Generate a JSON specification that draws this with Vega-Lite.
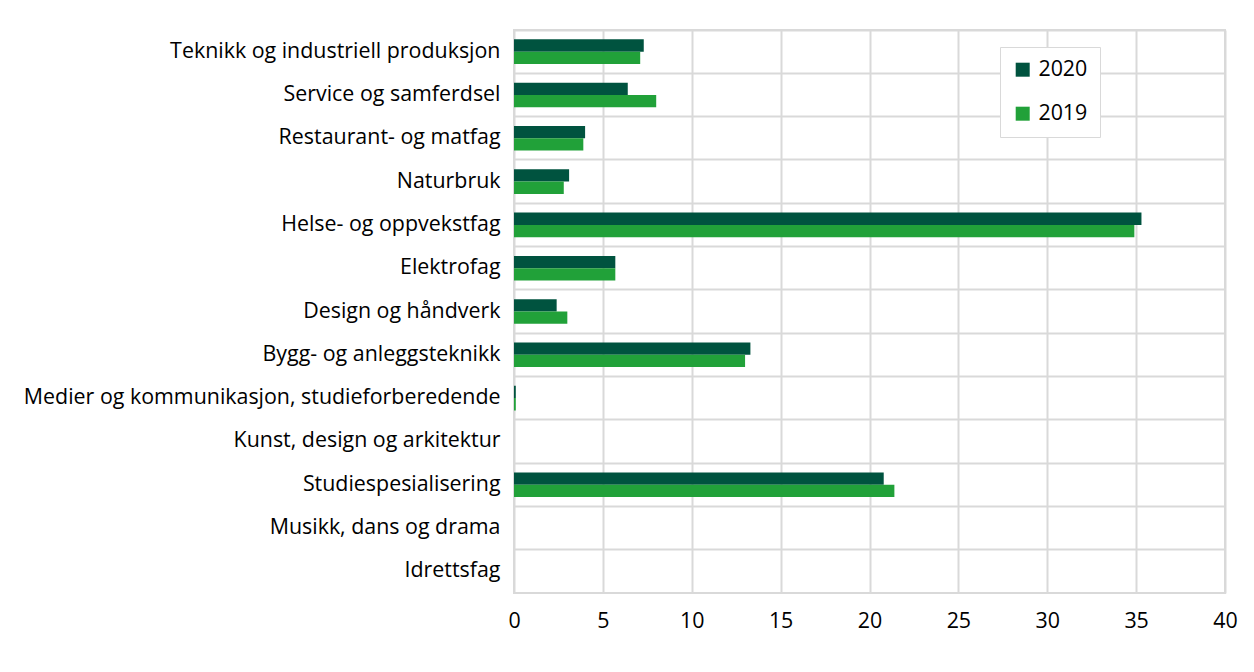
{
  "$schema": "https://vega.github.io/schema/vega-lite/v6.json",
  "autosize": {"type": "none"},
  "padding": {"left": 514, "top": 30, "right": 29, "bottom": 79},
  "width": 711,
  "height": 563,
  "background": "white",
  "config": {
    "font": "Open Sans",
    "view": {"stroke": "#d9d9d9", "strokeWidth": 2}
  },
  "data": {
    "values": [
      {"fag": "Teknikk og industriell produksjon", "year": "2020", "value": 7.3},
      {"fag": "Teknikk og industriell produksjon", "year": "2019", "value": 7.1},
      {"fag": "Service og samferdsel", "year": "2020", "value": 6.4},
      {"fag": "Service og samferdsel", "year": "2019", "value": 8.0},
      {"fag": "Restaurant- og matfag", "year": "2020", "value": 4.0},
      {"fag": "Restaurant- og matfag", "year": "2019", "value": 3.9},
      {"fag": "Naturbruk", "year": "2020", "value": 3.1},
      {"fag": "Naturbruk", "year": "2019", "value": 2.8},
      {"fag": "Helse- og oppvekstfag", "year": "2020", "value": 35.3},
      {"fag": "Helse- og oppvekstfag", "year": "2019", "value": 34.9},
      {"fag": "Elektrofag", "year": "2020", "value": 5.7},
      {"fag": "Elektrofag", "year": "2019", "value": 5.7},
      {"fag": "Design og håndverk", "year": "2020", "value": 2.4},
      {"fag": "Design og håndverk", "year": "2019", "value": 3.0},
      {"fag": "Bygg- og anleggsteknikk", "year": "2020", "value": 13.3},
      {"fag": "Bygg- og anleggsteknikk", "year": "2019", "value": 13.0},
      {"fag": "Medier og kommunikasjon, studieforberedende", "year": "2020", "value": 0.1},
      {"fag": "Medier og kommunikasjon, studieforberedende", "year": "2019", "value": 0.1},
      {"fag": "Kunst, design og arkitektur", "year": "2020", "value": 0},
      {"fag": "Kunst, design og arkitektur", "year": "2019", "value": 0},
      {"fag": "Studiespesialisering", "year": "2020", "value": 20.8},
      {"fag": "Studiespesialisering", "year": "2019", "value": 21.4},
      {"fag": "Musikk, dans og drama", "year": "2020", "value": 0},
      {"fag": "Musikk, dans og drama", "year": "2019", "value": 0},
      {"fag": "Idrettsfag", "year": "2020", "value": 0},
      {"fag": "Idrettsfag", "year": "2019", "value": 0}
    ]
  },
  "mark": {"type": "bar"},
  "encoding": {
    "y": {
      "field": "fag",
      "type": "nominal",
      "sort": null,
      "title": null,
      "scale": {"paddingInner": 0, "paddingOuter": 0},
      "axis": {
        "bandPosition": 0,
        "grid": true,
        "gridColor": "#d9d9d9",
        "gridWidth": 2,
        "ticks": false,
        "domain": false,
        "labelFontSize": 21.4,
        "labelColor": "#000000",
        "labelPadding": 14,
        "labelLimit": 600
      }
    },
    "yOffset": {
      "field": "year",
      "type": "nominal",
      "scale": {"domain": ["2020", "2019"], "paddingInner": 0, "paddingOuter": 0.76}
    },
    "x": {
      "field": "value",
      "type": "quantitative",
      "title": null,
      "scale": {"domain": [0, 40], "nice": false},
      "axis": {
        "values": [0, 5, 10, 15, 20, 25, 30, 35, 40],
        "grid": true,
        "gridColor": "#d9d9d9",
        "gridWidth": 2,
        "ticks": false,
        "domain": false,
        "labelFontSize": 21.4,
        "labelColor": "#000000",
        "labelPadding": 17,
        "labelFlush": false
      }
    },
    "color": {
      "field": "year",
      "type": "nominal",
      "scale": {"domain": ["2020", "2019"], "range": ["#00533f", "#21a139"]},
      "legend": {
        "title": null,
        "orient": "none",
        "legendX": 486,
        "legendY": 17,
        "direction": "vertical",
        "symbolType": "square",
        "symbolSize": 196,
        "symbolStrokeWidth": 0,
        "labelFontSize": 21.4,
        "labelColor": "#000000",
        "rowPadding": 21,
        "padding": 12,
        "strokeColor": "#d9d9d9",
        "fillColor": "white",
        "labelOffset": 5
      }
    }
  }
}
